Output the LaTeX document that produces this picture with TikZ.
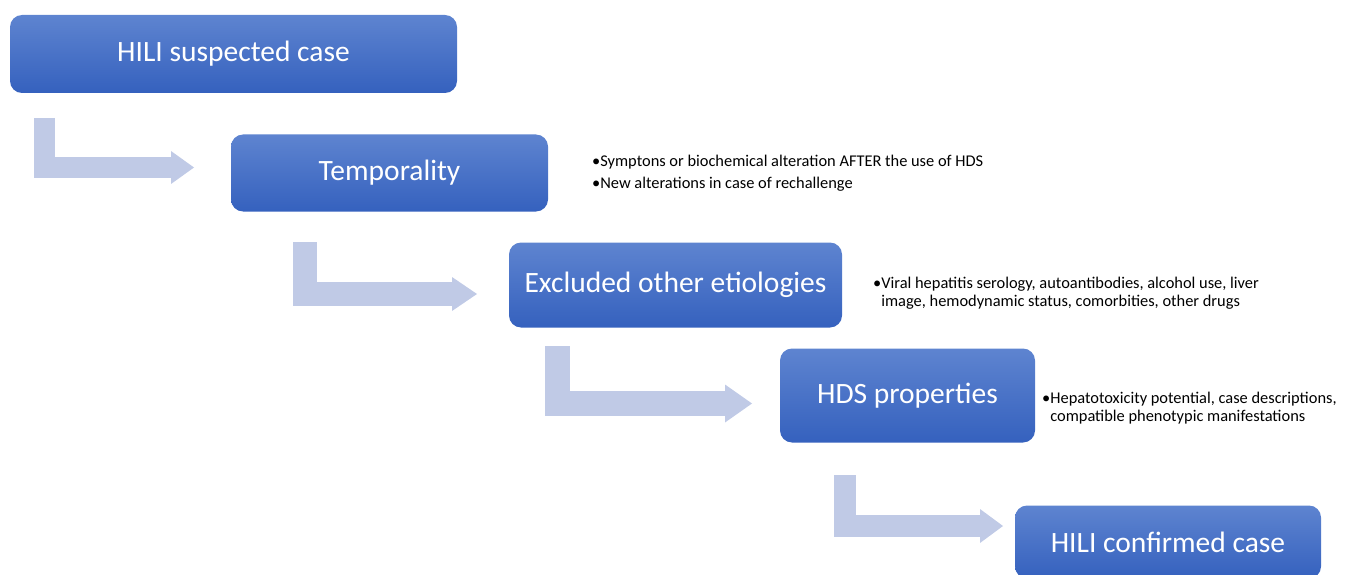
\documentclass[tikz,border=0pt]{standalone}
\usepackage{fontspec}
\setmainfont{Carlito}
\usetikzlibrary{arrows.meta}
\definecolor{boxtop}{RGB}{94,132,208}
\definecolor{boxbot}{RGB}{53,97,190}
\definecolor{bendcol}{RGB}{192,202,230}
\tikzset{
  stepbox/.style={rounded corners=12pt, top color=boxtop, bottom color=boxbot,
    text=white, font=\fontsize{29.5}{34}\selectfont, inner sep=0pt},
  bentarrow/.style={draw=bendcol, line join=miter},
  note/.style={anchor=west, align=left, inner sep=0pt,
    font=\fontsize{16.4}{18}\selectfont}
}
\begin{document}
\begin{tikzpicture}[x=1pt, y=-1pt]
        \useasboundingbox (0,0) rectangle (1350,575);
        % steps
        \node[stepbox, minimum width=447pt, minimum height=78pt] (suspect) at (233.5, 54) {HILI suspected case};
        \node[stepbox, minimum width=317pt, minimum height=77pt] (tempo) at (389.5, 173) {Temporality};
        \node[stepbox, minimum width=333pt, minimum height=85pt] (exclude) at (675.5, 285) {Excluded other etiologies};
        \node[stepbox, minimum width=255pt, minimum height=94pt] (hds) at (907.5, 395.5) {HDS properties};
        \node[stepbox, minimum width=306pt, minimum height=73pt] (confirm) at (1168, 542) {HILI confirmed case};
        % notes
        \node[note] (tnote) at (592, 173) {\textbullet Symptons or biochemical alteration AFTER the use of HDS\\[4pt]\textbullet New alterations in case of rechallenge};
        \node[note] (enote) at (873, 293) {\textbullet Viral hepatitis serology, autoantibodies, alcohol use, liver\\\phantom{\textbullet}image, hemodynamic status, comorbities, other drugs};
        \node[note] (hnote) at (1042, 408) {\textbullet Hepatotoxicity potential, case descriptions,\\\phantom{\textbullet}compatible phenotypic manifestations};
        % bent arrows
        \coordinate (b1s) at (44.5, 118);
        \coordinate (b1e) at (194, 167.5);
        \coordinate (b2s) at (305, 242);
        \coordinate (b2e) at (477, 294);
        \coordinate (b3s) at (557.5, 346);
        \coordinate (b3e) at (752, 403.5);
        \coordinate (b4s) at (845, 475);
        \coordinate (b4e) at (1003, 526);
        \draw[bentarrow, line width=21.5pt, -{Triangle[length=23pt, width=33pt, line width=0pt]}] (b1s) |- (b1e);
        \draw[bentarrow, line width=24pt, -{Triangle[length=25pt, width=34pt, line width=0pt]}] (b2s) |- (b2e);
        \draw[bentarrow, line width=25pt, -{Triangle[length=27pt, width=38pt, line width=0pt]}] (b3s) |- (b3e);
        \draw[bentarrow, line width=22pt, -{Triangle[length=23pt, width=34pt, line width=0pt]}] (b4s) |- (b4e);
\end{tikzpicture}
\end{document}
